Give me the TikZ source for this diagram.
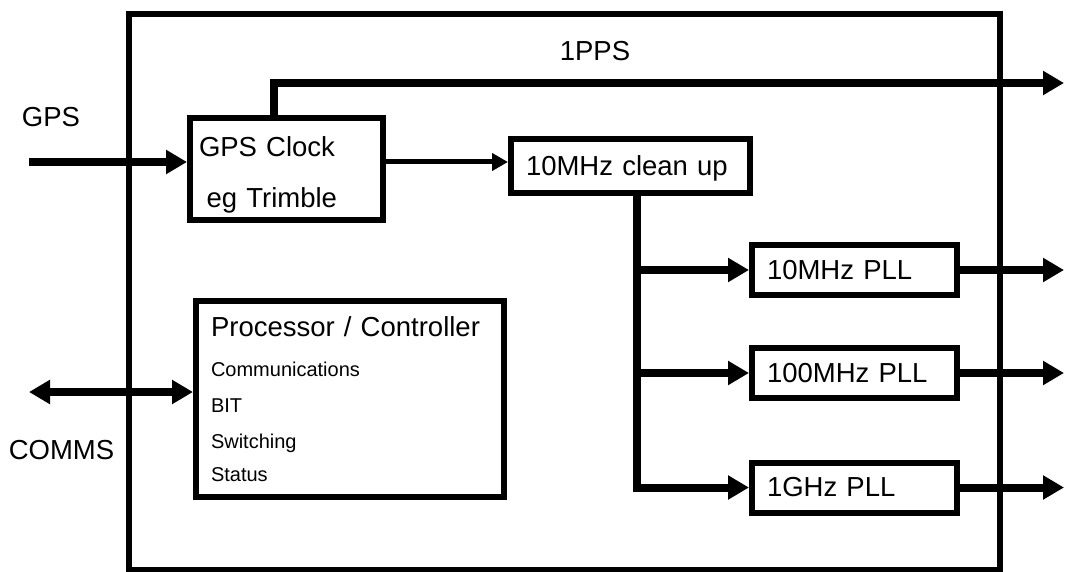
\documentclass[tikz,border=0pt]{standalone}
\usepackage{fontspec}
\setmainfont{Liberation Sans}
\usetikzlibrary{arrows.meta}

\begin{document}
\begin{tikzpicture}[x=1pt, y=-1pt,
  blk/.style={draw, line width=6pt, inner xsep=15pt, align=left, font=\fontsize{27.5}{33}\selectfont},
  sig/.style={line width=8pt, -{Triangle[length=21pt, width=23pt]}},
  sigboth/.style={line width=8pt, {Triangle[length=21pt, width=23pt]}-{Triangle[length=21pt, width=23pt]}},
  sigthin/.style={line width=5pt, -{Triangle[length=16pt, width=17pt]}},
  lbl/.style={inner sep=0pt, font=\fontsize{27.5}{33}\selectfont}]
\useasboundingbox (0,0) rectangle (1067,572);

\draw[line width=6pt] (128.5,14) rectangle (1000,570);

\node[blk, inner xsep=9pt, text width=175pt, minimum height=102pt, text height=31pt,
  font=\fontsize{27.5}{51}\selectfont] (clock) at (286.5,169) {GPS Clock\\\hspace*{7.6pt}eg Trimble};
\node[blk, text width=209pt, minimum height=54pt, text depth=0pt] (cleanup) at (630.5,166) {10MHz clean up};
\node[blk, text width=175pt, minimum height=50pt] (pllA) at (854.5,270) {10MHz PLL};
\node[blk, text width=175pt, minimum height=50pt] (pllB) at (854.5,373) {100MHz PLL};
\node[blk, text width=175pt, minimum height=50pt] (pllC) at (854.5,487.5) {1GHz PLL};
\node[blk, text width=278pt, minimum height=196pt] (proc) at (350,399)
  {Processor / Controller\\[3.4pt]
   \fontsize{20}{36}\selectfont Communications\\ BIT\\ Switching\\ Status};

\node[lbl] (gpslbl) at (51,117.5) {GPS};
\node[lbl] (ppslbl) at (595,51) {1PPS};
\node[lbl] (commslbl) at (61.5,450) {COMMS};

\coordinate (gpsin) at (29,162);
\coordinate (commsend) at (29,392);
\coordinate (ppscorner) at (274,83);
\coordinate (trunk) at (636.5,0);
\coordinate (outx) at (1064,0);

% inputs and 1PPS out
\draw[sig] (gpsin) -- (gpsin -| clock.west);
\draw[sig] (clock.north -| ppscorner) |- (outx |- ppscorner);
\draw[sigthin] (clock.east |- gpsin) -- (cleanup.west |- gpsin);
\draw[sigboth] (commsend) -- (commsend -| proc.west);

% 10MHz distribution to the PLLs
\draw[sig] (cleanup.south -| trunk) |- (pllC.west);
\draw[sig] (trunk |- pllA) -- (pllA.west);
\draw[sig] (trunk |- pllB) -- (pllB.west);
\foreach \p in {pllA,pllB,pllC}
  \draw[sig] (\p.east) -- (outx |- \p.east);
\end{tikzpicture}
\end{document}
